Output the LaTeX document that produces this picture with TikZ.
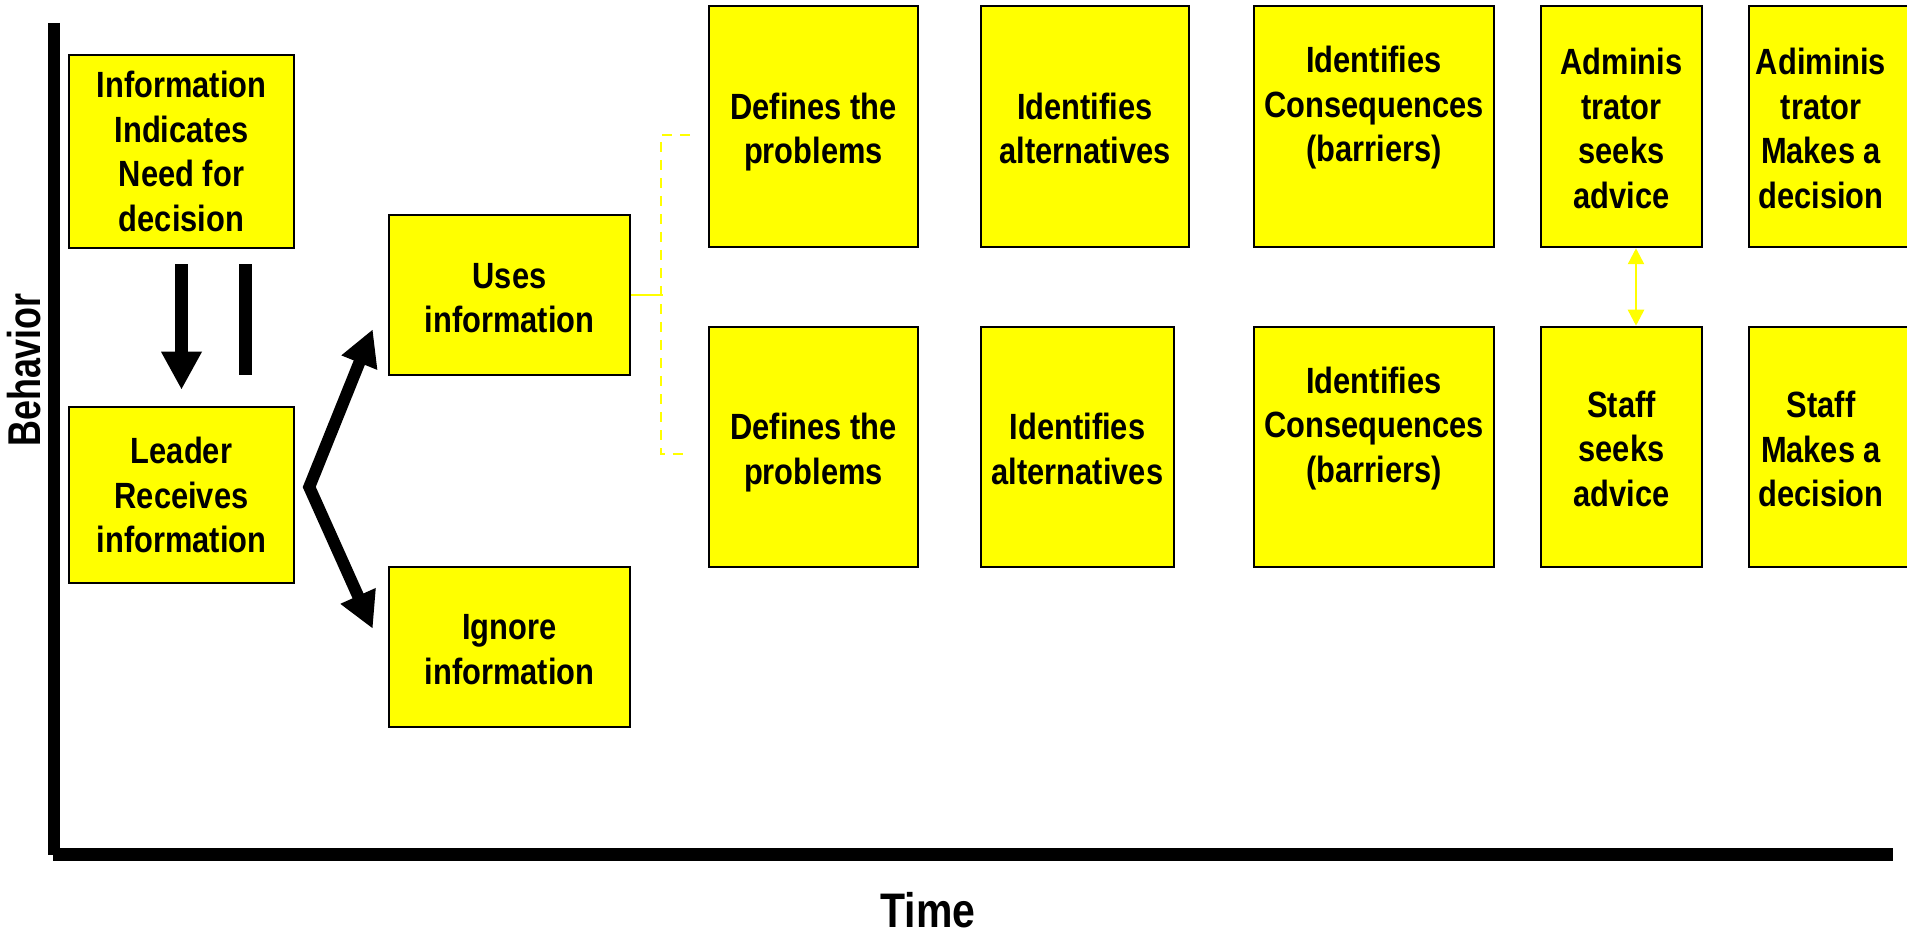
\documentclass[tikz,border=0pt]{standalone}
\usepackage{fontspec}
\setmainfont{Liberation Sans}
\newfontfamily\boxfont{Liberation Sans}[FakeStretch=0.845]
\usetikzlibrary{arrows.meta,calc}
\definecolor{boxyellow}{RGB}{255,255,0}
\newcommand{\lowerby}[1]{\rule{0pt}{#1}}
\begin{document}
\begin{tikzpicture}[x=1pt,y=-1pt,
  box/.style={draw=black, line width=2.5pt, fill=boxyellow, inner sep=0pt, align=center,
    font=\boxfont\bfseries\fontsize{36.5}{44.5}\selectfont},
  boxtext/.style={inner sep=0pt, align=center, font=\boxfont\bfseries\fontsize{36.5}{44.5}\selectfont},
  axis/.style={line width=12.5pt, line cap=butt},
  bigarrow/.style={line width=13pt, -{Triangle[width=38pt,length=38pt]}},
  branch/.style={line width=12pt, line join=miter,
    {Triangle[width=36pt,length=36pt]}-{Triangle[width=36pt,length=36pt]}},
  yline/.style={draw=boxyellow, line width=2.5pt},
  ydash/.style={draw=boxyellow, line width=2.5pt, dash pattern=on 10pt off 8pt},
  ydouble/.style={draw=boxyellow, line width=2.5pt,
    {Triangle[width=16pt,length=16pt]}-{Triangle[width=16pt,length=16pt]}},
]
\useasboundingbox (0,0) rectangle (1907,933);
\fill[white] (0,0) rectangle (1907,933);

% axes
\coordinate (ytop) at (54,23);
\coordinate (origin) at (54,855);
\coordinate (xend) at (1893,854.5);
\draw[axis] (ytop) -- (origin);
\draw[axis] (53,854.5) -- (xend);
\node[rotate=90, inner sep=0pt, font=\bfseries\fontsize{46}{50}\selectfont] (ylab) at (24,370) {\scalebox{0.78}[1]{Behavior}};
\node[anchor=base, inner sep=0pt, font=\boxfont\bfseries\fontsize{48.5}{52}\selectfont] (xlab) at (928,927) {Time};

% left column
\node[box, minimum width=225pt, minimum height=193pt] (info) at (181.5,151.5) {Information\\Indicates\\Need for\\decision};
\node[box, minimum width=225pt, minimum height=176pt] (leader) at (181.5,495) {Leader\\Receives\\information};
\node[box, minimum width=241pt, minimum height=160pt] (uses) at (509.5,295) {\lowerby{31pt}Uses\\information};
\node[box, minimum width=241pt, minimum height=160pt] (ignore) at (509.5,647) {\lowerby{30pt}Ignore\\information};

% top row
\node[box, minimum width=209pt, minimum height=241pt] (defT) at (813.5,126.5) {\lowerby{38pt}Defines the\\problems};
\node[box, minimum width=208pt, minimum height=241pt] (altT) at (1085,126.5) {\lowerby{30pt}Identifies\\alternatives};
\node[box, minimum width=240pt, minimum height=241pt] (consT) at (1374,126.5) {Identifies\\Consequences\\(barriers)\\\mbox{}};
\node[box, minimum width=161pt, minimum height=241pt] (admT) at (1621.5,126.5) {\lowerby{30pt}Adminis\\trator\\seeks\\advice};
\node[box, minimum width=166pt, minimum height=241pt] (decT) at (1832,126.5) {};
\node[boxtext] (decTtext) at ($(decT.center)+(-11,2)$) {Adiminis\\trator\\Makes a\\decision};

% bottom row
\node[box, minimum width=209pt, minimum height=240pt] (defB) at (813.5,447) {\lowerby{38pt}Defines the\\problems};
\node[box, minimum width=193pt, minimum height=240pt] (altB) at (1077.5,447) {\lowerby{30pt}Identifies\\alternatives};
\node[box, minimum width=240pt, minimum height=240pt] (consB) at (1374,447) {Identifies\\Consequences\\(barriers)\\\mbox{}};
\node[box, minimum width=161pt, minimum height=240pt] (staffB) at (1621.5,447) {\lowerby{30pt}Staff\\seeks\\advice};
\node[box, minimum width=166pt, minimum height=240pt] (decB) at (1832,447) {};
\node[boxtext] (decBtext) at ($(decB.center)+(-11,2)$) {Staff\\Makes a\\decision};

% black arrows
\draw[bigarrow] ($(info.south)+(0,15)$) -- ($(leader.north)+(0,-16)$);
\draw[line width=13pt] ($(info.south)+(64,15)$) -- ($(info.south)+(64,126)$);
\coordinate (v) at ($(leader.east)+(14,-8)$);
\draw[branch] ($(uses.south west)+(-15,-47)$) -- (v) -- ($(ignore.north west)+(-15,63)$);

% yellow connectors
\draw[yline] (uses.east) -- ++(32,0);
\draw[ydash] ($(defT.west)+(-18,8.5)$) -| ($(defB.west)+(-47,7)$) -- ($(defB.west)+(-18,7)$);
\draw[ydouble] ($(admT.south)+(14.5,0)$) -- ($(staffB.north)+(14.5,0)$);
\end{tikzpicture}
\end{document}
